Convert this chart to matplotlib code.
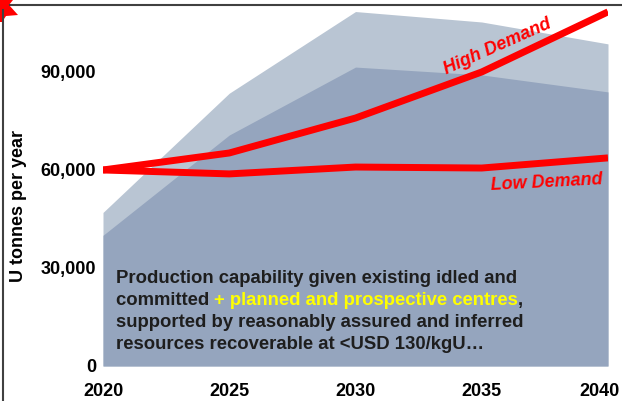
import matplotlib.pyplot as plt
import matplotlib.transforms as mtransforms
from matplotlib.patches import Polygon
from matplotlib.lines import Line2D

plt.rcParams['font.family'] = ['Liberation Sans', 'DejaVu Sans']

years = [2020, 2025, 2030, 2035, 2040]
# production capability, tonnes U per year
planned_capability = [47000, 83500, 108500, 105300, 98600]
existing_capability = [40000, 70700, 91500, 89100, 83900]
high_demand = [60000, 65200, 75900, 90000, 108400]
low_demand = [60000, 58800, 60900, 60600, 63700]
yticks = [0, 30000, 60000, 90000]
ytick_labels = ['0', '30,000', '60,000', '90,000']

fig = plt.figure(figsize=(6.22, 4.01), dpi=100)
ax = fig.add_axes([103 / 622, 1 - 366 / 401, 505 / 622, 361 / 401])

ax.fill_between(years, 0, planned_capability, color='#b9c5d3', lw=0)
ax.fill_between(years, 0, existing_capability, color='#95a5be', lw=0)
ax.plot(years, high_demand, color='#ff0000', lw=5, solid_capstyle='butt')
ax.plot(years, low_demand, color='#ff0000', lw=5, solid_capstyle='butt')

ax.set_xlim(2020, 2040)
ax.set_ylim(0, 110500)
ax.set_xticks(years)
ax.set_xticklabels([str(y) for y in years], fontsize=13, fontweight='bold')
ax.set_yticks(yticks)
ax.set_yticklabels(ytick_labels, fontsize=13, fontweight='bold')
ax.tick_params(length=0, pad=5)
ax.tick_params(axis='x', pad=12)
for s in ax.spines.values():
    s.set_visible(False)
# keep the last year label inside the figure
last = ax.get_xticklabels()[-1]
last.set_transform(last.get_transform() +
                   mtransforms.ScaledTranslation(-8 / 100, 0, fig.dpi_scale_trans))
ax.set_ylabel('U tonnes per year', fontsize=13, fontweight='bold')
ax.yaxis.set_label_coords(-0.150, 0.443)

ax.text(2035.64, 97600, 'High Demand', color='#ff0000', fontsize=13,
        fontweight='bold', style='italic', rotation=24, ha='center', va='center')
ax.text(2037.58, 56000, 'Low Demand', color='#ff0000', fontsize=13,
        fontweight='bold', style='italic', rotation=3, ha='center', va='center')

# description text, with the yellow part drawn after "committed"
tx, ty, dy = 2020.51, 26700, 6735
kw = dict(fontsize=13.3, fontweight='bold', va='center', color='#1e1e1e')
ax.text(tx, ty, 'Production capability given existing idled and', **kw)
t = ax.text(tx, ty - dy, 'committed ', **kw)
fig.canvas.draw()
x1 = ax.transData.inverted().transform((t.get_window_extent().x1, 0))[0]
t2 = ax.text(x1, ty - dy, '+ planned and prospective centres', **dict(kw, color='#ffff00'))
fig.canvas.draw()
x2 = ax.transData.inverted().transform((t2.get_window_extent().x1, 0))[0]
ax.text(x2, ty - dy, ',', **kw)
ax.text(tx, ty - 2 * dy, 'supported by reasonably assured and inferred', **kw)
ax.text(tx, ty - 3 * dy, 'resources recoverable at <USD 130/kgU\u2026', **kw)

# slide frame and corner marker
fig.add_artist(Line2D([10 / 622, 1], [1 - 5 / 401] * 2, color='#404040', lw=1.5))
fig.add_artist(Line2D([3 / 622] * 2, [0, 1 - 10 / 401], color='#404040', lw=1.5))
corner = [(0, 0), (13, 0), (9, 5), (18, 15), (6, 16), (2, 22), (0, 22)]
fig.add_artist(Polygon([(x / 622, 1 - y / 401) for x, y in corner],
                       closed=True, color='#ff0000', lw=0))

fig.savefig('out.png', dpi=100)
